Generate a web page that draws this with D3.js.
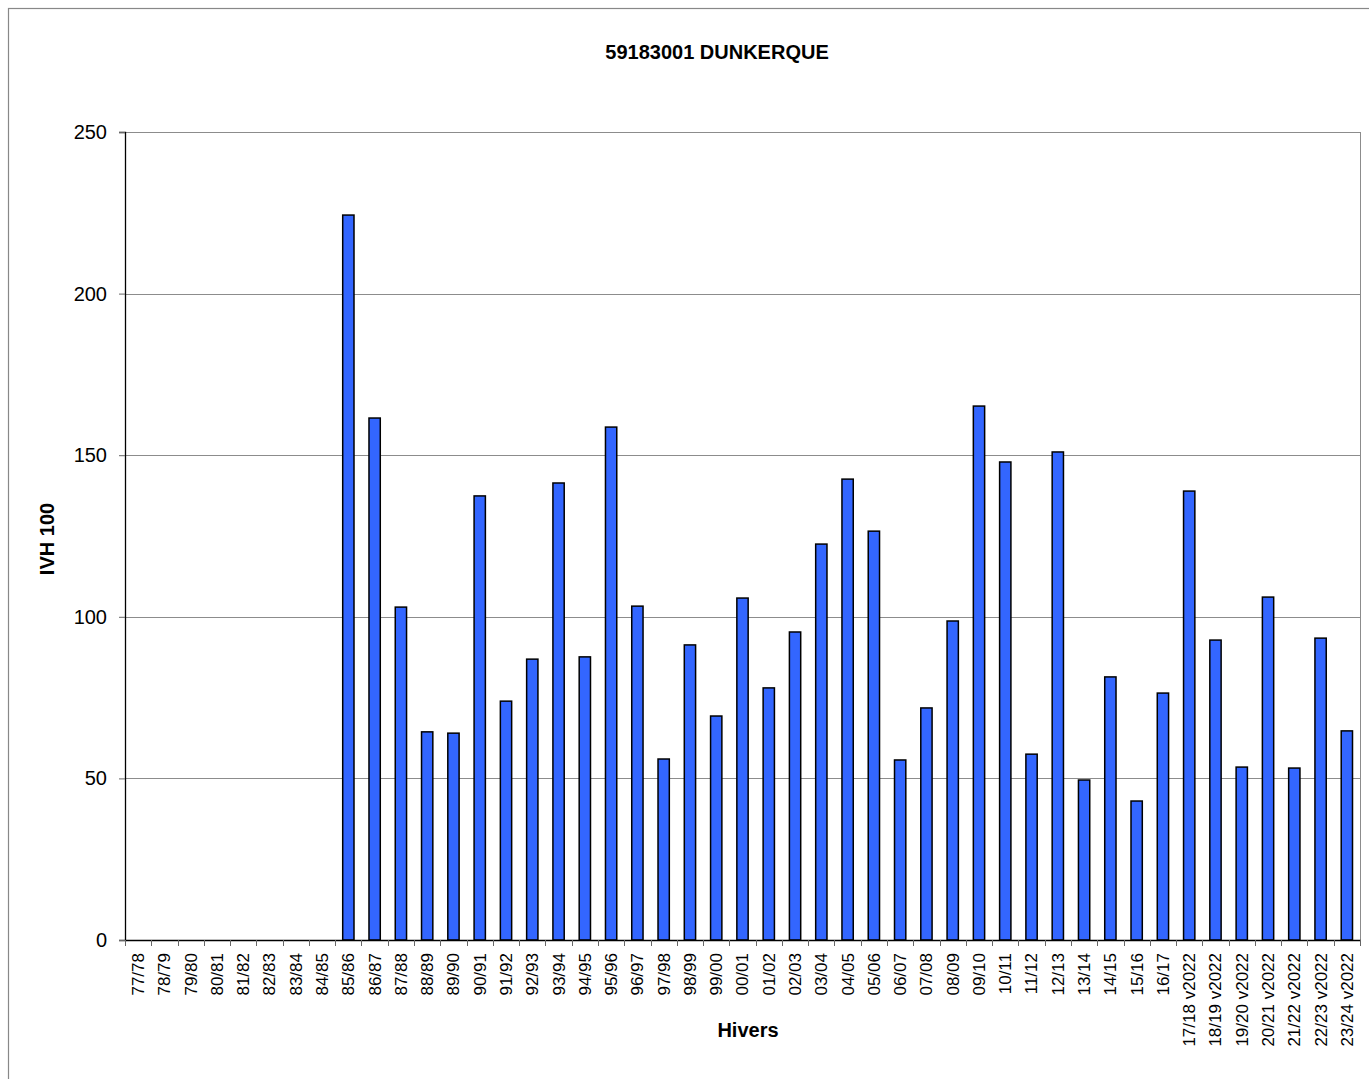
<!DOCTYPE html>
<html>
<head>
<meta charset="utf-8">
<script src="https://cdn.jsdelivr.net/npm/d3@7"></script>
<style>
  body { margin: 0; background: #fff; overflow: hidden; }
  text { font-family: "Liberation Sans", Arial, sans-serif; fill: #000; }
</style>
</head>
<body>
<svg id="chart"></svg>
<script>
const width = 1369,
    height = 1079;

const margin = {top: 132, right: 9, bottom: 139, left: 125};

const winters = [
    "77/78", "78/79", "79/80", "80/81", "81/82", "82/83", "83/84", "84/85",
    "85/86", "86/87", "87/88", "88/89", "89/90", "90/91", "91/92", "92/93",
    "93/94", "94/95", "95/96", "96/97", "97/98", "98/99", "99/00", "00/01",
    "01/02", "02/03", "03/04", "04/05", "05/06", "06/07", "07/08", "08/09",
    "09/10", "10/11", "11/12", "12/13", "13/14", "14/15", "15/16", "16/17",
    "17/18 v2022", "18/19 v2022", "19/20 v2022", "20/21 v2022",
    "21/22 v2022", "22/23 v2022", "23/24 v2022"
];

// null = no measurement that winter
const ivh = [
    null, null, null, null, null, null, null, null,
    224.3, 161.5, 103.0, 64.4, 64.0, 137.4, 73.9, 86.9,
    141.4, 87.6, 158.7, 103.3, 56.0, 91.3, 69.3, 105.8,
    78.0, 95.3, 122.5, 142.6, 126.5, 55.7, 71.8, 98.7,
    165.2, 147.9, 57.5, 151.0, 49.5, 81.4, 43.0, 76.4,
    138.9, 92.8, 53.5, 106.1, 53.2, 93.4, 64.7
];

const yTicks = [0, 50, 100, 150, 200, 250];

const data = winters.map((w, i) => ({winter: w, value: ivh[i]}));

const innerW = width - margin.left - margin.right,
    innerH = height - margin.top - margin.bottom;

let svg = d3.select("#chart").attr("width", width).attr("height", height);

// outer frame (right and bottom edges fall outside the picture)
svg.append("rect")
    .attr("x", 8.5).attr("y", 8.5)
    .attr("width", width + 20).attr("height", height + 20)
    .attr("fill", "none").attr("stroke", "#888").attr("stroke-width", 1.2);

let g = svg.append("g").attr("transform", `translate(${margin.left},${margin.top})`);

let x = d3.scaleBand().domain(winters).range([0, innerW]).paddingInner(0).paddingOuter(0);
let y = d3.scaleLinear().domain([0, 250]).range([innerH, 0]);

// gridlines
g.append("g")
    .selectAll("line")
    .data(yTicks.filter(d => d > 0))
    .join("line")
    .attr("x1", 0).attr("x2", innerW)
    .attr("y1", d => Math.round(y(d)) + 0.5).attr("y2", d => Math.round(y(d)) + 0.5)
    .attr("stroke", "#8c8c8c").attr("stroke-width", 1);

// right border of plot
g.append("line")
    .attr("x1", innerW + 0.5).attr("x2", innerW + 0.5)
    .attr("y1", 0).attr("y2", innerH)
    .attr("stroke", "#8c8c8c");

// bars
const barW = x.bandwidth() * 0.43;
g.append("g")
    .selectAll("rect")
    .data(data.filter(d => d.value != null))
    .join("rect")
    .attr("x", d => x(d.winter) + (x.bandwidth() - barW) / 2)
    .attr("y", d => y(d.value))
    .attr("width", barW)
    .attr("height", d => innerH - y(d.value))
    .attr("fill", "#3366ff")
    .attr("stroke", "#000")
    .attr("stroke-width", 1.5);

// y axis
let yAxis = g.append("g")
    .call(d3.axisLeft(y).tickValues(yTicks).tickSize(6).tickPadding(12).tickFormat(d3.format("d")));
yAxis.select(".domain").attr("stroke", "#000").attr("stroke-width", 1.3);
yAxis.selectAll(".tick line").attr("stroke", "#666");
yAxis.selectAll("text").style("font-size", "20px");

// x axis
let xAxis = g.append("g").attr("transform", `translate(0,${innerH})`)
    .call(d3.axisBottom(x).tickSize(0).tickPadding(0));
xAxis.select(".domain").attr("stroke", "#000").attr("stroke-width", 1.3);
xAxis.selectAll(".tick text")
    .style("font-size", "17px")
    .attr("text-anchor", "end")
    .attr("dy", "0.35em")
    .attr("transform", "translate(0,13) rotate(-90)");

// category boundary ticks
g.append("g")
    .selectAll("line")
    .data(d3.range(winters.length + 1))
    .join("line")
    .attr("x1", i => Math.round(i * x.step()) + 0.5)
    .attr("x2", i => Math.round(i * x.step()) + 0.5)
    .attr("y1", innerH).attr("y2", innerH + 6)
    .attr("stroke", "#666");

// titles
svg.append("text")
    .attr("x", 717).attr("y", 59)
    .attr("text-anchor", "middle")
    .style("font-size", "20px").style("font-weight", "bold")
    .text("59183001 DUNKERQUE");

svg.append("text")
    .attr("x", 748).attr("y", 1037)
    .attr("text-anchor", "middle")
    .style("font-size", "20px").style("font-weight", "bold")
    .text("Hivers");

svg.append("text")
    .attr("transform", "translate(54,539) rotate(-90)")
    .attr("text-anchor", "middle")
    .style("font-size", "20px").style("font-weight", "bold")
    .text("IVH 100");
</script>
</body>
</html>
